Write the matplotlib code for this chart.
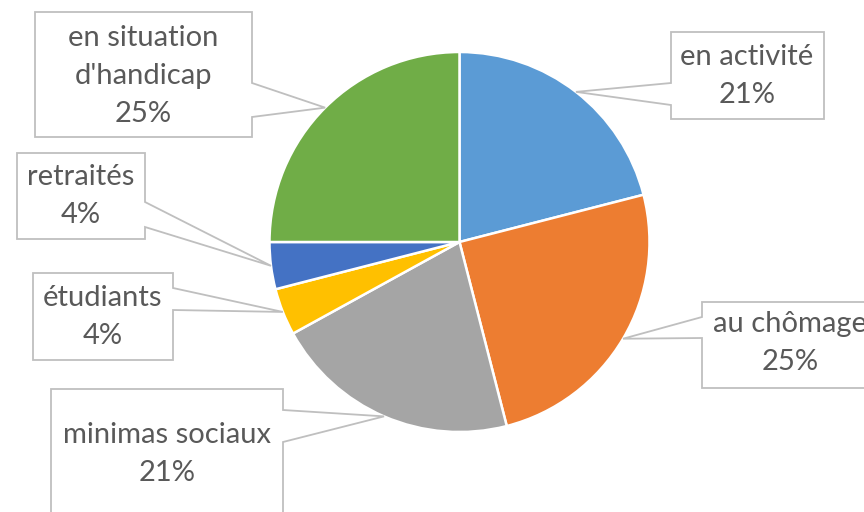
import numpy as np
import matplotlib
matplotlib.use("Agg")
import matplotlib.pyplot as plt
from matplotlib.patches import Polygon

# data (clockwise from 12 o'clock)
categories = ["en activité", "au chômage", "minimas sociaux",
              "étudiants", "retraités", "en situation\nd'handicap"]
shares = [21, 25, 21, 4, 4, 25]
pct_labels = ["21%", "25%", "21%", "4%", "4%", "25%"]
colors = ["#5B9BD5", "#ED7D31", "#A5A5A5", "#FFC000", "#4472C4", "#70AD47"]

W, H = 864, 512
TXT = "#595959"
EDGE = "#BFBFBF"

# label boxes in pixel coords (top-left origin): x0, y0, x1, y1, side of the pointer,
# pointer base y1/y2 on that side, text centre
boxes = [
    (671, 32, 824, 119, "left", 83, 105, (747, 76)),
    (702, 302, 878, 388, "left", 317, 338, (790, 343)),
    (51, 389, 283, 530, "right", 410, 442, (167, 454)),
    (33, 273, 173, 360, "right", 288, 310, (103, 317)),
    (17, 153, 145, 239, "right", 202, 227, (81, 196)),
    (35, 12, 252, 137, "right", 83, 117, (143, 76)),
]


def fy(y):
    return H - y


fig = plt.figure(figsize=(8.64, 5.12), dpi=100)
ax = fig.add_axes([0, 0, 1, 1])

cx, cy, r = 459.5, fy(242), 190
wedges, _ = ax.pie(shares, colors=colors, startangle=90, counterclock=False,
                   center=(cx, cy), radius=r, frame=True,
                   wedgeprops=dict(edgecolor="white", linewidth=1.8))
ax.set_xlim(0, W)
ax.set_ylim(0, H)
ax.set_aspect("equal")
ax.axis("off")

for w, cat, pct, b in zip(wedges, categories, pct_labels, boxes):
    x0, y0, x1, y1, side, p1, p2, (tx, ty) = b
    mid = np.deg2rad((w.theta1 + w.theta2) / 2)
    tip = (cx + r * np.cos(mid), cy + r * np.sin(mid))
    if side == "left":
        pts = [(x0, fy(y0)), (x1, fy(y0)), (x1, fy(y1)), (x0, fy(y1)),
               (x0, fy(p2)), tip, (x0, fy(p1))]
    else:
        pts = [(x0, fy(y0)), (x1, fy(y0)), (x1, fy(p1)), tip,
               (x1, fy(p2)), (x1, fy(y1)), (x0, fy(y1))]
    ax.add_patch(Polygon(pts, closed=True, facecolor="white", edgecolor=EDGE,
                         linewidth=1.3, zorder=3))
    ax.text(tx, fy(ty), f"{cat}\n{pct}", ha="center", va="center",
            fontsize=21, color=TXT, family=["Lato", "DejaVu Sans"],
            linespacing=1.55, zorder=4)

fig.savefig("out.png", dpi=100)
